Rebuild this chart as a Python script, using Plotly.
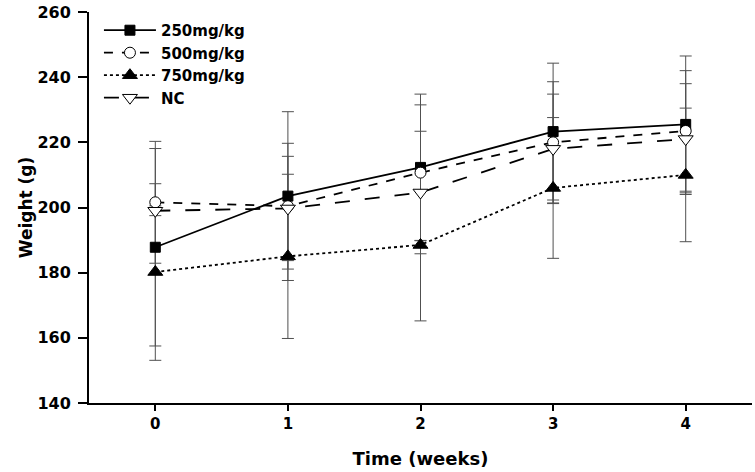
import plotly.graph_objects as go

weeks = [0, 1, 2, 3, 4]
tick_labels = ["0", "1", "2", "3", "4"]

names = ["250mg/kg", "500mg/kg", "750mg/kg", "NC"]
w250 = [187.8, 203.5, 212.3, 223.3, 225.5]
sd250 = [30.3, 25.9, 22.5, 21.0, 21.0]
w500 = [201.6, 200.4, 210.7, 220.0, 223.5]
sd500 = [18.7, 19.3, 20.8, 18.6, 18.5]
w750 = [180.2, 185.0, 188.5, 206.0, 210.0]
sd750 = [27.1, 25.2, 23.3, 21.6, 20.5]
wnc = [199.0, 199.7, 204.6, 218.0, 221.0]
snc = [1.5, 16.0, 18.8, 16.8, 17.0]

values = [w250, w500, w750, wnc]
sds = [sd250, sd500, sd750, snc]
dashes = ["solid", "dash", "dot", "longdash"]
symbols = ["square", "circle", "triangle-up", "triangle-down"]
fills = ["black", "white", "black", "white"]
sizes = [10, 11, 13, 13]

FONT = "DejaVu Sans"

fig = go.Figure()
# error bars first (drawn underneath)
for nm, v, s in zip(names, values, sds):
    fig.add_trace(go.Scatter(
        x=weeks, y=v, mode="markers", showlegend=False, hoverinfo="skip",
        marker=dict(size=1, opacity=0),
        error_y=dict(type="data", array=s, visible=True,
                     color="#505050", thickness=1, width=6),
    ))
for nm, v, d, sym, f, sz in zip(names, values, dashes, symbols, fills, sizes):
    fig.add_trace(go.Scatter(
        x=weeks, y=v, name=nm, mode="lines+markers",
        line=dict(color="black", width=1.8, dash=d),
        marker=dict(symbol=sym, size=sz, color=f,
                    line=dict(color="black", width=1)),
    ))

fig.update_layout(
    width=755, height=472,
    paper_bgcolor="white", plot_bgcolor="white",
    margin=dict(l=89, r=3, t=12, b=69),
    showlegend=True,
    legend=dict(x=0.015, y=0.995, xanchor="left", yanchor="top",
                bgcolor="rgba(0,0,0,0)",
                font=dict(family=FONT, size=15, color="black", weight="bold"),
                tracegroupgap=0, itemwidth=52),
    font=dict(family=FONT, color="black"),
)
fig.update_xaxes(
    range=[-0.5, 4.5], tickvals=weeks, ticktext=tick_labels,
    showline=True, linecolor="black", linewidth=2,
    ticks="outside", ticklen=6, tickwidth=2, tickcolor="black",
    showgrid=False, zeroline=False, ticklabelstandoff=0,
    tickfont=dict(family=FONT, size=15, color="black", weight="bold"),
    title=dict(text="Time (weeks)", standoff=20,
               font=dict(family=FONT, size=18, color="black", weight="bold")),
)
fig.update_yaxes(
    range=[140, 260], tickvals=[140, 160, 180, 200, 220, 240, 260],
    showline=True, linecolor="black", linewidth=2,
    ticks="outside", ticklen=9, tickwidth=1.5, tickcolor="black",
    showgrid=False, zeroline=False, ticklabelstandoff=4,
    tickfont=dict(family=FONT, size=16, color="black", weight="bold"),
    title=dict(text="Weight (g)", standoff=0,
               font=dict(family=FONT, size=17, color="black", weight="bold")),
)

fig.write_html("out.html", config={"displayModeBar": False},
               post_script="document.body.style.margin='0';document.body.style.overflow='hidden';")
